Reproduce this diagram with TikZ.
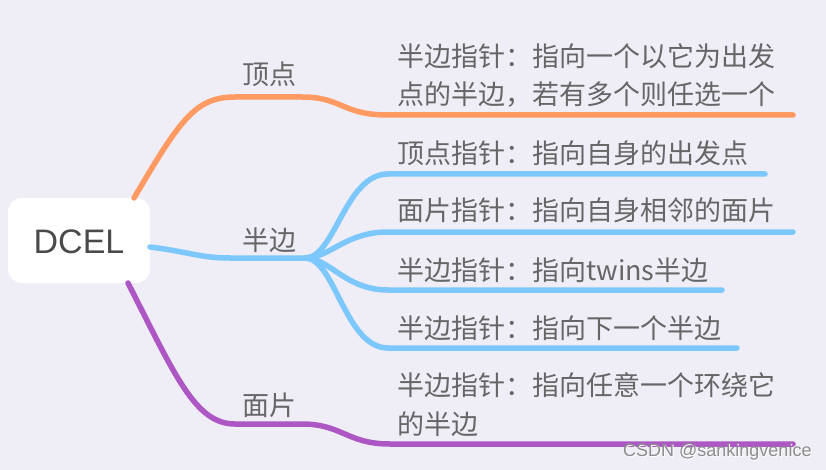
\documentclass[tikz,border=0pt]{standalone}
\usepackage{fontspec}
\setmainfont{Noto Sans CJK SC}
\newfontfamily\latinsf{Liberation Sans}
\definecolor{bg}{HTML}{EFEDF5}
\definecolor{corange}{HTML}{FF9A62}
\definecolor{cblue}{HTML}{7CC7FC}
\definecolor{cpurple}{HTML}{AD57C5}
\definecolor{txt}{HTML}{666666}
\definecolor{roottxt}{HTML}{4A4A4A}
\tikzset{
  branch/.style={line width=5.5pt, line cap=round},
  leaftext/.style={anchor=base west, inner sep=0pt, text=txt, font=\fontsize{27}{27}\selectfont},
  labeltext/.style={anchor=base west, inner sep=0pt, text=txt, font=\fontsize{27}{27}\selectfont},
  rootbox/.style={fill=white, rounded corners=14pt, minimum width=142pt, minimum height=85pt, inner sep=0pt},
}
\begin{document}
\begin{tikzpicture}[x=1pt,y=-1pt]
\fill[bg] (0,0) rectangle (826,470);
\useasboundingbox (0,0) rectangle (826,470);

% root
\node[rootbox] (root) at (79,240.5) {};
\node[anchor=base, inner sep=0pt, text=roottxt, font=\latinsf\fontsize{34}{34}\selectfont] (roottext) at (79,253) {DCEL};

% coordinates
\coordinate (oStart) at (134,198);
\coordinate (oMid) at (235,97);
\coordinate (oKnee) at (302,97);
\coordinate (oLeaf) at (388,115);
\coordinate (oEnd) at (793,115);

\coordinate (bStart) at (150,247);
\coordinate (bMid) at (230,258);
\coordinate (hub) at (305,258);
\coordinate (b1) at (388,174);
\coordinate (b1e) at (765,174);
\coordinate (b2) at (388,232);
\coordinate (b2e) at (793,232);
\coordinate (b3) at (388,290);
\coordinate (b3e) at (722,290);
\coordinate (b4) at (388,348);
\coordinate (b4e) at (737,348);

\coordinate (pStart) at (128,283);
\coordinate (pMid) at (235,424);
\coordinate (pKnee) at (302,424);
\coordinate (pLeaf) at (390,444);
\coordinate (pEnd) at (793,444);

% orange branch
\draw[branch, corange] (oStart) .. controls (180,120) and (195,97) .. (oMid) -- (oKnee)
  .. controls (342,97) and (342,115) .. (oLeaf) -- (oEnd);

% blue branch
\draw[branch, cblue] (bStart) .. controls (190,252) and (200,258) .. (bMid) -- (hub);
\draw[branch, cblue] (hub) .. controls (335,258) and (345,174) .. (b1) -- (b1e);
\draw[branch, cblue] (hub) .. controls (330,258) and (345,232) .. (b2) -- (b2e);
\draw[branch, cblue] (hub) .. controls (330,258) and (345,290) .. (b3) -- (b3e);
\draw[branch, cblue] (hub) .. controls (335,258) and (345,348) .. (b4) -- (b4e);

% purple branch
\draw[branch, cpurple] (pStart) .. controls (175,375) and (195,424) .. (pMid) -- (pKnee)
  .. controls (342,424) and (347,444) .. (pLeaf) -- (pEnd);

% labels
\node[labeltext] (lV) at (242,85) {顶点};
\node[labeltext] (lH) at (242,251) {半边};
\node[labeltext] (lF) at (242,415) {面片};

% leaves
\node[leaftext] (o1a) at (397,67) {半边指针：指向一个以它为出发};
\node[leaftext] (o1b) at (397,105) {点的半边，若有多个则任选一个};
\node[leaftext] (h1) at (397,164) {顶点指针：指向自身的出发点};
\node[leaftext] (h2) at (397,221) {面片指针：指向自身相邻的面片};
\node[leaftext] (h3) at (397,280) {半边指针：指向twins半边};
\node[leaftext] (h4) at (397,338) {半边指针：指向下一个半边};
\node[leaftext] (f1a) at (397,395) {半边指针：指向任意一个环绕它};
\node[leaftext] (f1b) at (397,434) {的半边};

% watermark
\node[anchor=base west, inner sep=0pt, text=white, font=\latinsf\fontsize{18}{18}\selectfont] (wmshadow) at (624,457) {CSDN @sankingvenice};
\node[anchor=base west, inner sep=0pt, text=black!45, font=\latinsf\fontsize{18}{18}\selectfont] (wm) at (623,456) {CSDN @sankingvenice};
\end{tikzpicture}
\end{document}
